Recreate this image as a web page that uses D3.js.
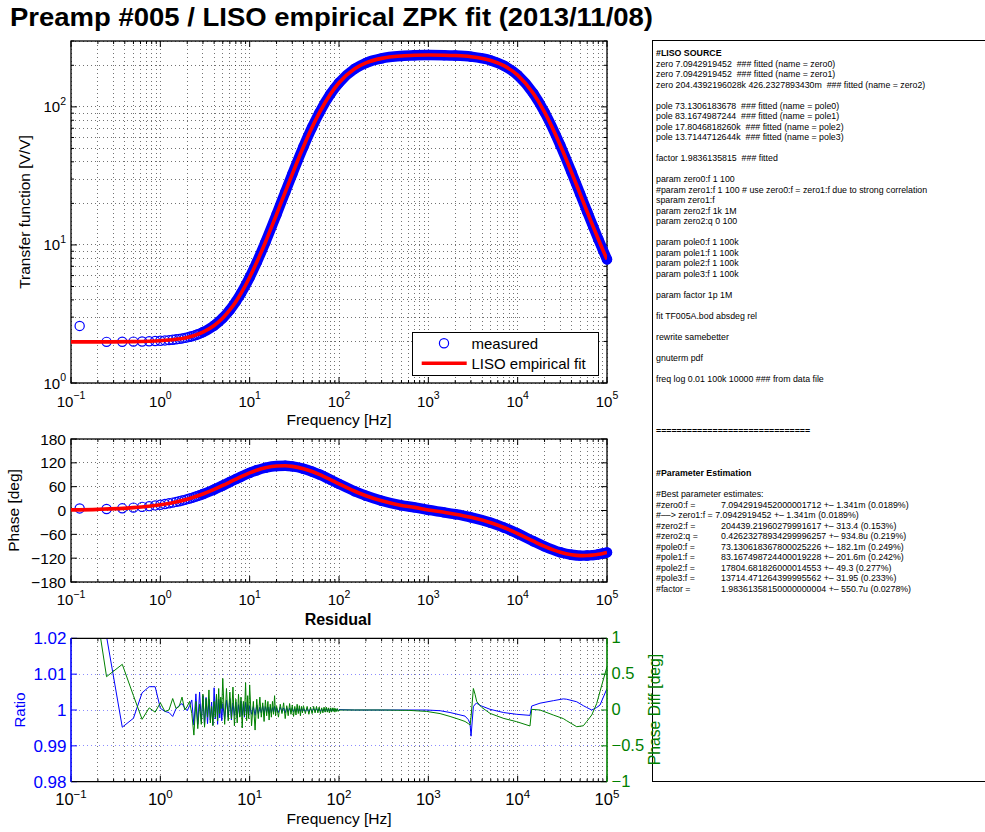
<!DOCTYPE html>
<html><head><meta charset="utf-8">
<script src="https://cdn.jsdelivr.net/npm/d3@7/dist/d3.min.js"></script>
<style>
html,body{margin:0;padding:0;background:#fff;}
svg text{font-family:"Liberation Sans",Arial,Helvetica,sans-serif;}
</style></head><body>
<svg id="fig" width="985" height="832"></svg>
<script>
// ---------------- DATA ----------------
const titleText = "Preamp #005 / LISO empirical ZPK fit (2013/11/08)";

const freqTicks = [0.1, 1, 10, 100, 1000, 10000, 100000];
const magTicks = [1, 10, 100];
const phaseTicks = [-180, -120, -60, 0, 60, 120, 180];
const ratioTicks = [0.98, 0.99, 1, 1.01, 1.02];
const phaseDiffTicks = [-1, -0.5, 0, 0.5, 1];

// measured (circles)
const measuredFreq = [0.125,0.25,0.375,0.5,0.625,0.75,0.875,1,1.125,1.25,1.375,1.5,1.625,1.75,1.875,2,2.125,2.25,2.375,2.5,2.625,2.75,2.875,
  3,4,5,6,7,8,10,12,15,20,25,30,40,50,60,80,100,150,200,300,500,700,1000,1500,2000,3000,5000,7000,10000,15000,20000,30000,40000,50000,60000,70000,80000,90000,100000];
const measuredMag = [2.59,1.986,1.989,1.994,1.999,2.006,2.014,2.023,2.034,2.045,2.058,2.072,2.087,2.103,2.121,2.140,2.160,2.181,2.204,2.228,2.253,2.279,2.306,
  2.335,2.607,2.957,3.382,3.883,4.459,5.828,7.481,10.46,16.65,24.12,32.60,51.43,71.11,90.20,123.6,149.5,188.9,208.1,224.5,233.7,236.3,237.3,236.8,235.4,230.9,217.0,199.1,169.6,124.9,91.64,52.76,33.69,23.43,17.39,13.56,10.99,9.182,7.859];
const measuredPhase = [5.2,3.67,5.50,7.33,9.15,10.97,12.78,14.58,16.37,18.15,19.91,21.67,23.41,25.14,26.85,28.54,30.22,31.88,33.52,35.15,36.75,38.32,39.89,
  41.43,52.95,62.99,71.62,78.96,85.13,94.63,101.29,107.57,112.0,112.5,111.0,105.2,98.1,90.89,77.82,67.07,48.48,37.26,24.46,12.84,7.86,1.38,-4.65,-9.32,-17.22,-30.80,-42.74,-58.03,-77.31,-90.42,-105.09,-111.36,-113.51,-113.47,-112.23,-110.31,-108.03,-105.55];

// LISO fit (line)
const fitFreq = [0.1,0.2,0.5,1,1.5,2,3,4,5,6,7,8,10,12,15,20,25,30,40,50,60,80,100,150,200,300,500,700,1000,1500,2000,3000,5000,7000,10000,15000,20000,30000,40000,50000,60000,70000,80000,90000,100000];
const fitMag = [1.984,1.985,1.994,2.023,2.072,2.140,2.335,2.607,2.957,3.382,3.883,4.459,5.828,7.481,10.46,16.65,24.12,32.60,51.43,71.11,90.20,123.6,149.5,188.9,208.1,224.5,233.7,236.3,237.3,236.8,235.4,230.9,217.0,199.1,169.6,124.9,91.64,52.76,33.69,23.43,17.39,13.56,10.99,9.182,7.859];
const fitPhase = [1.47,2.94,7.33,14.58,21.67,28.54,41.43,52.95,62.99,71.62,78.96,85.13,94.63,101.29,107.57,112.0,112.5,111.0,105.2,98.1,90.89,77.82,67.07,48.48,37.26,24.46,12.84,7.86,1.38,-4.65,-9.32,-17.22,-30.80,-42.74,-58.03,-77.31,-90.42,-105.09,-111.36,-113.51,-113.47,-112.23,-110.31,-108.03,-105.55];

// residual
const resFreq = [0.125,0.25,0.375,0.5,0.625,0.75,0.875,1,1.125,1.25,1.375,1.5,1.625,1.75,1.875,2,2.125,2.25,2.375,2.5,2.625,2.75,2.875,
  3,3.125,3.25,3.375,3.5,3.625,3.75,3.875,4,4.125,4.25,4.375,4.5,4.625,4.75,4.875,
  5,5.25,5.5,5.75,6,6.25,6.5,6.75,7,7.25,7.5,7.75,8,8.25,8.5,8.75,9,9.25,9.5,9.75,
  10,10.5,11,11.5,12,12.5,13,13.5,14,14.5,15,15.5,16,16.5,17,17.5,18,18.5,19,19.5,20,
  21,22,23,24,25,26,27,28,29,30,31,32,33,34,35,36,37,38,39,40,
  42,44,46,48,50,52,54,56,58,60,62,64,66,68,70,72,74,76,78,80,82,84,86,88,90,92,94,96,98,100,
  150,300,600,959,1352,1750,2200,2576,2805,2930,3006,3192,3333,3479,3793,3958,4905,6920,9742,13740,14345,17780,25060,32440,35370,45810,54330,59300,67470,76690,83590,100000];
const resRatio = [1.305,1.0205,0.9952,0.9977,1.0048,1.0065,1.0065,1.0005,0.9996,0.9993,0.9982,1.0004,1.0012,1.0018,1.0006,0.9998,1.0012,1.0028,0.9958,1.0045,0.9960,1.0050,0.9968,
  1.0040,0.9958,1.0035,0.9962,1.0030,0.9972,1.0022,0.9958,1.0062,0.9975,1.0040,0.9960,1.0030,0.9978,1.0025,0.9970,
  1.0018,0.9975,1.0028,0.9980,1.0032,0.9972,1.0020,0.9985,1.0022,0.9978,1.0015,0.9982,1.0025,0.9985,1.0018,0.9980,1.0022,0.9988,1.0015,0.9985,
  1.0012,0.9988,1.0010,0.9985,1.0014,0.9990,1.0008,0.9992,1.0012,0.9988,1.0010,0.9993,1.0008,0.9990,1.0009,0.9992,1.0007,0.9994,1.0010,0.9992,1.0006,
  0.9993,1.0008,0.9994,1.0006,0.9992,1.0007,0.9995,1.0005,0.9994,1.0006,0.9995,1.0004,0.9996,1.0005,0.9995,1.0004,0.9996,1.0005,0.9996,1.0004,
  0.9996,1.0005,0.9995,1.0004,0.9996,1.0004,0.9996,1.0004,0.9997,1.0004,0.9996,1.0003,0.9997,1.0003,0.9996,1.0004,0.9997,1.0003,0.9997,1.0003,0.9997,1.0003,0.9997,1.0002,0.9998,1.0003,0.9998,1.0002,0.9998,1.0001,
  1.0,1.0,1.0,1.0,0.9998,0.9993,0.9987,0.9983,0.9973,0.9962,0.9927,1.0009,1.0016,1.0019,1.0013,1.0011,1.0002,0.9993,0.9988,0.9985,1.0011,1.0019,1.0026,1.0031,1.0030,1.0023,1.0012,1.0007,1.0000,1.0007,1.0014,1.0060];
const resPhaseDiff = [2.9,0.465,0.637,0.2,-0.13,0.03,-0.03,0.10,-0.02,0.0,0.16,0.02,0.05,0.18,0.0,0.05,0.12,-0.05,-0.35,0.12,-0.26,0.08,-0.2,
  0.22,-0.24,0.16,-0.10,0.28,-0.18,0.05,-0.22,0.12,-0.10,0.22,-0.15,0.30,-0.05,0.18,0.02,
  0.44,-0.20,0.30,-0.15,0.25,-0.12,0.32,-0.22,0.15,-0.18,0.22,-0.10,0.18,-0.25,0.12,-0.08,0.38,-0.15,0.20,-0.12,
  0.35,-0.22,0.12,-0.28,0.15,-0.12,0.18,-0.10,0.10,-0.16,0.14,-0.08,0.12,-0.14,0.08,-0.10,0.12,-0.06,0.20,-0.08,0.06,
  -0.10,0.08,-0.05,0.10,-0.12,0.06,-0.08,0.09,-0.06,0.07,-0.09,0.05,-0.07,0.08,-0.05,0.06,-0.08,0.05,-0.04,0.06,
  -0.05,0.05,-0.06,0.04,-0.05,0.05,-0.04,0.05,-0.04,0.04,-0.05,0.03,-0.04,0.04,-0.03,0.04,-0.03,0.03,-0.04,0.03,-0.03,0.03,-0.02,0.03,-0.03,0.02,-0.02,0.02,-0.02,0.0,
  0.0,0.0,-0.005,-0.02,-0.05,-0.09,-0.13,-0.16,-0.19,-0.21,-0.10,0.30,0.22,0.12,0.06,0.037,-0.047,-0.116,-0.163,-0.223,0.009,0.0,-0.07,-0.12,-0.15,-0.233,-0.22,-0.16,-0.07,0.09,0.26,0.605];

const legendLabels = ["measured", "LISO empirical fit"];

const lisoText = [
"#LISO SOURCE",
"zero 7.0942919452  ### fitted (name = zero0)",
"zero 7.0942919452  ### fitted (name = zero1)",
"zero 204.4392196028k 426.2327893430m  ### fitted (name = zero2)",
"",
"pole 73.1306183678  ### fitted (name = pole0)",
"pole 83.1674987244  ### fitted (name = pole1)",
"pole 17.8046818260k  ### fitted (name = pole2)",
"pole 13.7144712644k  ### fitted (name = pole3)",
"",
"factor 1.9836135815  ### fitted",
"",
"param zero0:f 1 100",
"#param zero1:f 1 100 # use zero0:f = zero1:f due to strong correlation",
"sparam zero1:f",
"param zero2:f 1k 1M",
"param zero2:q 0 100",
"",
"param pole0:f 1 100k",
"param pole1:f 1 100k",
"param pole2:f 1 100k",
"param pole3:f 1 100k",
"",
"param factor 1p 1M",
"",
"fit TF005A.bod absdeg rel",
"",
"rewrite samebetter",
"",
"gnuterm pdf",
"",
"freq log 0.01 100k 10000 ### from data file",
"","","","",
"==============================",
"","","",
"#Parameter Estimation",
"",
"#Best parameter estimates:",
"#zero0:f =\t7.0942919452000001712 +\u2013 1.341m (0.0189%)",
"#\u2013\u2013> zero1:f = 7.0942919452 +\u2013 1.341m (0.0189%)",
"#zero2:f =\t204439.21960279991617 +\u2013 313.4 (0.153%)",
"#zero2:q =\t0.42623278934299996257 +\u2013 934.8u (0.219%)",
"#pole0:f =\t73.130618367800025226 +\u2013 182.1m (0.249%)",
"#pole1:f =\t83.167498724400019228 +\u2013 201.6m (0.242%)",
"#pole2:f =\t17804.681826000014553 +\u2013 49.3 (0.277%)",
"#pole3:f =\t13714.471264399995562 +\u2013 31.95 (0.233%)",
"#factor =\t1.98361358150000000004 +\u2013 550.7u (0.0278%)"
];

// ---------------- DRAWING ----------------
const svg = d3.select("#fig");
const BLUE = "#0000ff", RED = "#ff0000", GREEN = "#008000";
const X0 = 71, X1 = 607;
const P1 = {top: 41, bottom: 383}, P2 = {top: 439, bottom: 582}, P3 = {top: 638.3, bottom: 781.7};

const x = d3.scaleLog().domain([0.1, 1e5]).range([X0, X1]);
const yMag = d3.scaleLog().domain([1, 300]).range([P1.bottom, P1.top]);
const yPh = d3.scaleLinear().domain([-180, 180]).range([P2.bottom, P2.top]);
const yRatio = d3.scaleLinear().domain([0.98, 1.02]).range([P3.bottom, P3.top]);
const yPD = d3.scaleLinear().domain([-1, 1]).range([P3.bottom, P3.top]);

const defs = svg.append("defs");
[["c1", P1], ["c2", P2], ["c3", P3]].forEach(([id, p]) => {
  defs.append("clipPath").attr("id", id).append("rect")
    .attr("x", X0).attr("y", p.top).attr("width", X1 - X0).attr("height", p.bottom - p.top);
});

const xAll = x.ticks();
const isDecade = v => { const l = Math.log10(v); return Math.abs(l - Math.round(l)) < 1e-6; };
const minus = s => String(s).replace("-", "\u2212");

function vGrid(g, p) {
  g.append("g").selectAll("line").data(xAll).join("line")
    .attr("x1", d => x(d)).attr("x2", d => x(d)).attr("y1", p.top).attr("y2", p.bottom)
    .attr("stroke", "#000").attr("stroke-width", 1).attr("stroke-dasharray", "1 3")
    .attr("opacity", 0.55).attr("shape-rendering", "crispEdges");
}
function hGrid(g, vals, scale, color) {
  g.append("g").selectAll("line").data(vals).join("line")
    .attr("x1", X0).attr("x2", X1).attr("y1", d => scale(d)).attr("y2", d => scale(d))
    .attr("stroke", color).attr("stroke-width", 1).attr("stroke-dasharray", "1 3")
    .attr("opacity", 0.55).attr("shape-rendering", "crispEdges");
}
function xTickMarks(g, p) {
  const segs = xAll.flatMap(v => { const L = isDecade(v) ? 6 : 3; return [[v, p.bottom, p.bottom - L], [v, p.top, p.top + L]]; });
  g.append("g").selectAll("line").data(segs).join("line")
    .attr("x1", d => x(d[0])).attr("x2", d => x(d[0])).attr("y1", d => d[1]).attr("y2", d => d[2])
    .attr("stroke", "#000").attr("stroke-width", 1);
}
function yTickMarks(g, vals, scale, lenFn, side, color) {
  g.append("g").selectAll("line").data(vals).join("line")
    .attr("x1", side === "left" ? X0 : X1)
    .attr("x2", d => side === "left" ? X0 + lenFn(d) : X1 - lenFn(d))
    .attr("y1", d => scale(d)).attr("y2", d => scale(d))
    .attr("stroke", color).attr("stroke-width", 1);
}
function supLabel(g, xp, yp, v, size, anchor, color, rise) {
  const e = Math.round(Math.log10(v));
  const t = g.append("text").attr("x", xp).attr("y", yp).attr("text-anchor", anchor)
    .attr("font-size", size).attr("fill", color || "#000");
  t.append("tspan").text("10");
  t.append("tspan").attr("dy", -size * (rise || 0.47)).attr("font-size", size * 0.7).text(minus(e));
}
function xLabels(g, base, size, rise) {
  freqTicks.forEach(v => supLabel(g, x(v), base, v, size, "middle", "#000", rise));
}
function frame(g, p) {
  g.append("rect").attr("x", X0).attr("y", p.top).attr("width", X1 - X0).attr("height", p.bottom - p.top)
    .attr("fill", "none").attr("stroke", "#000").attr("stroke-width", 1.3);
}

// title
svg.append("text").attr("x", 10).attr("y", 26).attr("font-size", 25).attr("font-weight", "bold")
  .attr("textLength", 643).attr("lengthAdjust", "spacingAndGlyphs").text(titleText);

const measured = measuredFreq.map((f, i) => ({f, mag: measuredMag[i], ph: measuredPhase[i]}));
const fit = fitFreq.map((f, i) => ({f, mag: fitMag[i], ph: fitPhase[i]}));
const bandStart = 3;
const dense = measured.filter(d => d.f >= bandStart);
const MR = 4.6, MSW = 1.2, BANDW = 2 * MR + MSW;

// ---------- Panel 1: magnitude ----------
const g1 = svg.append("g");
vGrid(g1, P1);
hGrid(g1, yMag.ticks(), yMag, "#000");
xTickMarks(g1, P1);
yTickMarks(g1, yMag.ticks(), yMag, d => isDecade(d) ? 6 : 3, "left", "#000");
yTickMarks(g1, yMag.ticks(), yMag, d => isDecade(d) ? 6 : 3, "right", "#000");
frame(g1, P1);
xLabels(g1, 406.5, 15);
magTicks.forEach(v => supLabel(g1, 66, yMag(v) + 5.5, v, 15, "end"));

const lineMag = d3.line().x(d => x(d.f)).y(d => yMag(d.mag)).curve(d3.curveMonotoneX);
g1.append("path").datum(dense).attr("d", lineMag).attr("fill", "none").attr("stroke", BLUE)
  .attr("stroke-width", BANDW).attr("stroke-linejoin", "round").attr("stroke-linecap", "round");
g1.append("g").selectAll("circle").data(measured).join("circle")
  .attr("cx", d => x(d.f)).attr("cy", d => yMag(d.mag)).attr("r", MR)
  .attr("fill", "none").attr("stroke", BLUE).attr("stroke-width", MSW);
g1.append("path").datum(fit).attr("d", lineMag).attr("fill", "none").attr("stroke", RED)
  .attr("stroke-width", 3.6).attr("clip-path", "url(#c1)");

// legend
const lg = g1.append("g");
lg.append("rect").attr("x", 412.5).attr("y", 332.5).attr("width", 186).attr("height", 43)
  .attr("fill", "#fff").attr("stroke", "#000").attr("stroke-width", 1);
lg.append("circle").attr("cx", 444).attr("cy", 343.3).attr("r", MR).attr("fill", "none").attr("stroke", BLUE).attr("stroke-width", MSW);
lg.append("line").attr("x1", 421.7).attr("x2", 466.7).attr("y1", 363.3).attr("y2", 363.3).attr("stroke", RED).attr("stroke-width", 3.6);
lg.selectAll("text").data(legendLabels).join("text")
  .attr("x", 471.5).attr("y", (d, i) => 348.5 + i * 20).attr("font-size", 15).text(d => d);

svg.append("text").attr("transform", "translate(30,212) rotate(-90)").attr("text-anchor", "middle")
  .attr("font-size", 15.5).text("Transfer function [V/V]");
svg.append("text").attr("x", 339).attr("y", 425).attr("text-anchor", "middle").attr("font-size", 15.5).text("Frequency [Hz]");

// ---------- Panel 2: phase ----------
const g2 = svg.append("g");
vGrid(g2, P2);
hGrid(g2, phaseTicks, yPh, "#000");
xTickMarks(g2, P2);
yTickMarks(g2, phaseTicks, yPh, () => 6, "left", "#000");
yTickMarks(g2, phaseTicks, yPh, () => 6, "right", "#000");
frame(g2, P2);
xLabels(g2, 605, 15);
g2.append("g").selectAll("text").data(phaseTicks).join("text")
  .attr("x", 66).attr("y", d => yPh(d) + 5.5).attr("text-anchor", "end").attr("font-size", 15.5).text(d => minus(d));

const linePh = d3.line().x(d => x(d.f)).y(d => yPh(d.ph)).curve(d3.curveMonotoneX);
g2.append("path").datum(dense).attr("d", linePh).attr("fill", "none").attr("stroke", BLUE)
  .attr("stroke-width", BANDW).attr("stroke-linejoin", "round").attr("stroke-linecap", "round");
g2.append("g").selectAll("circle").data(measured).join("circle")
  .attr("cx", d => x(d.f)).attr("cy", d => yPh(d.ph)).attr("r", MR)
  .attr("fill", "none").attr("stroke", BLUE).attr("stroke-width", MSW);
g2.append("path").datum(fit).attr("d", linePh).attr("fill", "none").attr("stroke", RED)
  .attr("stroke-width", 3.6).attr("clip-path", "url(#c2)");

svg.append("text").attr("transform", "translate(19,510.5) rotate(-90)").attr("text-anchor", "middle")
  .attr("font-size", 15.5).text("Phase [deg]");
svg.append("text").attr("x", 338).attr("y", 625).attr("text-anchor", "middle").attr("font-size", 16)
  .attr("font-weight", "bold").text("Residual");

// ---------- Panel 3: residual ----------
const g3 = svg.append("g");
vGrid(g3, P3);
hGrid(g3, [0.99, 1, 1.01], yRatio, "#3030ff");
xTickMarks(g3, P3);
yTickMarks(g3, ratioTicks, yRatio, () => 6, "left", BLUE);
yTickMarks(g3, phaseDiffTicks, yPD, () => 6, "right", GREEN);
const res = resFreq.map((f, i) => ({f, r: resRatio[i], p: resPhaseDiff[i]}));
g3.append("path").datum(res).attr("d", d3.line().x(d => x(d.f)).y(d => yRatio(d.r)))
  .attr("fill", "none").attr("stroke", BLUE).attr("stroke-width", 1).attr("clip-path", "url(#c3)");
g3.append("path").datum(res).attr("d", d3.line().x(d => x(d.f)).y(d => yPD(d.p)))
  .attr("fill", "none").attr("stroke", GREEN).attr("stroke-width", 1).attr("clip-path", "url(#c3)");
// axis lines
g3.append("line").attr("x1", X0).attr("x2", X1).attr("y1", P3.top).attr("y2", P3.top).attr("stroke", "#000").attr("stroke-width", 1.3);
g3.append("line").attr("x1", X0).attr("x2", X1).attr("y1", P3.bottom).attr("y2", P3.bottom).attr("stroke", "#000").attr("stroke-width", 1.3);
g3.append("line").attr("x1", X0).attr("x2", X0).attr("y1", P3.top).attr("y2", P3.bottom).attr("stroke", BLUE).attr("stroke-width", 1.6);
g3.append("line").attr("x1", X1).attr("x2", X1).attr("y1", P3.top).attr("y2", P3.bottom).attr("stroke", GREEN).attr("stroke-width", 1.6);
xLabels(g3, 805, 16.5, 0.42);
g3.append("g").selectAll("text").data(ratioTicks).join("text")
  .attr("x", 66.5).attr("y", d => yRatio(d) + 6).attr("text-anchor", "end").attr("font-size", 17)
  .attr("fill", BLUE).text(d => String(d));
g3.append("g").selectAll("text").data(phaseDiffTicks).join("text")
  .attr("x", 611.5).attr("y", d => yPD(d) + 5).attr("text-anchor", "start").attr("font-size", 16.5)
  .attr("fill", GREEN).text(d => minus(d));
svg.append("text").attr("transform", "translate(25,710) rotate(-90)").attr("text-anchor", "middle")
  .attr("font-size", 15).attr("fill", BLUE).text("Ratio");
svg.append("text").attr("x", 339).attr("y", 823.5).attr("text-anchor", "middle").attr("font-size", 15.5).text("Frequency [Hz]");

// ---------- Text box ----------
const tb = svg.append("g");
tb.append("rect").attr("x", 652.5).attr("y", 40.5).attr("width", 345).attr("height", 741)
  .attr("fill", "#fff").attr("stroke", "#000").attr("stroke-width", 1);
lisoText.forEach((line, i) => {
  if (!line) return;
  const y = 53 + i * 10.5 + 3;
  const bold = line.startsWith("#LISO") || line.startsWith("#Parameter") || line.startsWith("=");
  const parts = line.split("\t");
  tb.append("text").attr("x", 656).attr("y", y).attr("font-size", 8.8)
    .attr("font-weight", bold ? "bold" : "normal").style("white-space", "pre").text(parts[0]);
  if (parts.length > 1) {
    tb.append("text").attr("x", 721).attr("y", y).attr("font-size", 8.8).style("white-space", "pre").text(parts[1]);
  }
});

svg.append("text").attr("transform", "translate(660,709.5) rotate(-90)").attr("text-anchor", "middle")
  .attr("font-size", 15.7).attr("fill", GREEN).text("Phase Diff [deg]");
</script>
</body></html>
